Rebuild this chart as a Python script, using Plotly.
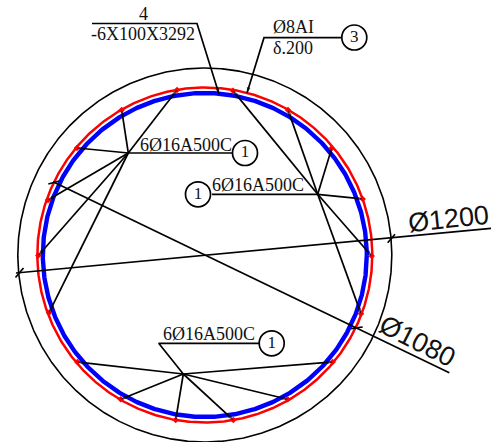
import numpy as np
import plotly.graph_objects as go

# Rings: centre and radius in drawing units
ring_center = (204.8, 255.0)
ring_names = ["outer", "red", "blue"]
ring_radii = [187.0, 167.5, 162.0]
ring_colors = ["#000000", "#ff0000", "#0000ff"]
ring_widths = [1.6, 2.5, 4.4]

# Reinforcement bars: leader node -> bar positions
node_a = (128.3, 153.0)
bars_a_x = [177.0, 121.7, 77.0, 48.0, 38.3, 49.0]
bars_a_y = [90.0, 110.0, 148.0, 200.0, 255.5, 312.7]
node_b = (317.7, 194.3)
bars_b_x = [233.0, 288.0, 331.7, 362.7, 371.7, 361.0]
bars_b_y = [90.7, 110.0, 148.3, 199.0, 256.0, 313.7]
node_c = (183.3, 374.0)
bars_c_x = [77.3, 120.7, 175.7, 233.3, 287.7, 332.7]
bars_c_y = [362.0, 399.3, 420.0, 420.0, 399.3, 362.0]

# Plain polylines
leader_lines = [
    ([128.3, 232.0], [153.0, 153.0]),
    ([317.7, 212.0], [194.3, 194.3]),
    ([183.3, 158.7, 259.0], [374.0, 343.3, 343.3]),
    ([16.0, 491.0], [273.0, 228.3]),
    ([15.5, 23.5], [277.5, 268.0]),
    ([387.7, 395.0], [242.7, 234.3]),
    ([53.0, 449.3], [181.7, 372.7]),
    ([48.3, 59.3], [184.0, 181.0]),
    ([351.0, 362.7], [328.7, 327.0]),
]
# Leaders with an arrowhead at the last point
arrow_lines = [
    ([92.0, 197.0, 219.0], [23.5, 23.5, 94.0]),
    ([341.0, 264.0, 247.0], [37.7, 37.7, 93.0]),
]

# Balloons
balloon_x = [245.0, 198.0, 271.7, 354.3]
balloon_y = [153.0, 194.3, 343.3, 37.5]
balloon_text = ["1", "1", "1", "3"]

# Serif labels
label_text = ["4", "-6X100X3292", "Ø8AI", "δ.200", "6Ø16A500C", "6Ø16A500C", "6Ø16A500C"]
label_x = [143.0, 143.0, 293.0, 293.0, 185.5, 258.0, 209.0]
label_y = [13.5, 33.5, 27.0, 48.0, 144.5, 185.0, 333.5]

# Dimension labels
dim_text = ["Ø1200", "Ø1080"]
dim_x = [448.0, 417.0]
dim_y = [219.0, 341.0]
dim_angle = [-6, 27]

fig = go.Figure()

theta = np.linspace(0, 2 * np.pi, 721)
for name, r, c, w in zip(ring_names, ring_radii, ring_colors, ring_widths):
    fig.add_trace(go.Scatter(x=ring_center[0] + r * np.cos(theta), y=ring_center[1] + r * np.sin(theta),
                             mode="lines", line=dict(color=c, width=w), name=name))

all_bar_x = bars_a_x + bars_b_x + bars_c_x
all_bar_y = bars_a_y + bars_b_y + bars_c_y
fig.add_trace(go.Scatter(x=all_bar_x, y=all_bar_y, mode="markers",
                         marker=dict(symbol="diamond", size=5, color="#ff0000")))

for px, py in leader_lines:
    fig.add_trace(go.Scatter(x=px, y=py, mode="lines", line=dict(color="black", width=1.7)))


def arrow(px, py):
    sizes = [0] * (len(px) - 1) + [6]
    fig.add_trace(go.Scatter(x=px, y=py, mode="lines+markers", line=dict(color="black", width=1.7),
                             marker=dict(symbol="arrow", size=sizes, color="black", angleref="previous",
                                         line=dict(width=0))))


for node, bx, by in [(node_a, bars_a_x, bars_a_y), (node_b, bars_b_x, bars_b_y), (node_c, bars_c_x, bars_c_y)]:
    for x1, y1 in zip(bx, by):
        arrow([node[0], x1], [node[1], y1])
for px, py in arrow_lines:
    arrow(px, py)

fig.add_trace(go.Scatter(x=balloon_x, y=balloon_y, mode="markers+text", text=balloon_text,
                         textposition="middle center",
                         textfont=dict(family="Liberation Serif", size=17, color="#111"),
                         marker=dict(size=25, color="white", line=dict(color="black", width=1.7))))

for t, x, y in zip(label_text, label_x, label_y):
    fig.add_annotation(x=x, y=y, text=t, showarrow=False, xanchor="center", yanchor="middle",
                       font=dict(family="Liberation Serif", size=18, color="#111"))
for t, x, y, a in zip(dim_text, dim_x, dim_y, dim_angle):
    fig.add_annotation(x=x, y=y, text=t, showarrow=False, xanchor="center", yanchor="middle", textangle=a,
                       font=dict(family="Liberation Sans", size=27, color="#111"))

fig.update_layout(width=491, height=442, margin=dict(l=0, r=0, t=0, b=0), showlegend=False,
                  plot_bgcolor="white", paper_bgcolor="white",
                  xaxis=dict(range=[0, 491], visible=False),
                  yaxis=dict(range=[442, 0], visible=False))
fig.write_html("out.html", config=dict(displayModeBar=False),
               post_script="document.body.style.margin='0';document.documentElement.style.overflow='hidden';")
